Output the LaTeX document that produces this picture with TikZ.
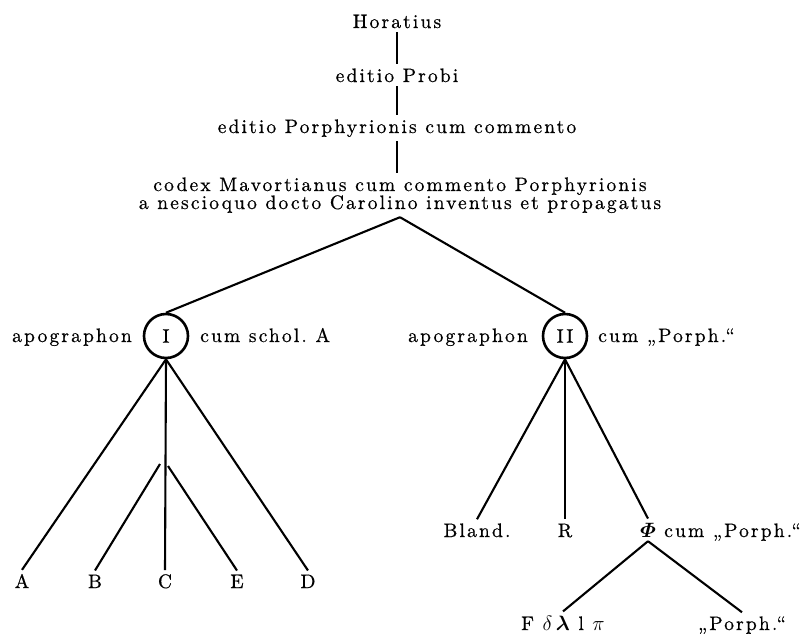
\documentclass[tikz,border=0pt]{standalone}
\usepackage{amsmath}
\usepackage{fontspec}
\setmainfont{lmroman10-regular}[Extension=.otf,LetterSpace=11,FakeBold=0.6]
\frenchspacing
\begin{document}
\begin{tikzpicture}[x=1pt,y=-1pt,
  every node/.style={font=\fontsize{19.5}{20}\selectfont, inner sep=4pt},
  edge/.style={line width=2.1pt},
  ms/.style={draw, circle, line width=2.6pt, minimum size=44pt, inner sep=0pt}]
\useasboundingbox (0,0) rectangle (811,634);
% top chain
\node[anchor=base] (hor) at (397,28) {Horatius};
\node[anchor=base] (pro) at (397,82) {editio Probi};
\node[anchor=base] (epo) at (397,133) {editio Porphyrionis cum commento};
\node[anchor=base, align=center] (cod) at (400,209) {codex Mavortianus cum commento Porphyrionis\\[-2pt]a nescioquo docto Carolino inventus et propagatus};
\draw[edge] (hor.south) -- (pro.north);
\draw[edge] (pro.south) -- (epo.north);
\draw[edge] (epo.south) -- (epo.south |- cod.north);
% apographa
\node[ms] (c1) at (166,336) {I};
\node[ms] (c2) at (565,336) {II};
\node[anchor=base east] (ap1) at (136,342) {apographon};
\node[anchor=base west] (sc1) at (196,342) {cum schol. A};
\node[anchor=base east] (ap2) at (532,342) {apographon};
\node[anchor=base west] (sc2) at (594,342) {cum „Porph.“};
\draw[edge] (cod.south) -- (c1.north);
\draw[edge] (cod.south) -- (c2.north);
% left family
\node[anchor=base] (A) at (22,588) {A};
\node[anchor=base] (B) at (95,588) {B};
\node[anchor=base] (C) at (165,588) {C};
\node[anchor=base] (E) at (237,588) {E};
\node[anchor=base] (D) at (308,588) {D};
\coordinate (jb) at (160,464);
\coordinate (je) at (168,466);
\draw[edge] (c1.south) -- (A.north);
\draw[edge] (c1.south) -- (C.north);
\draw[edge] (c1.south) -- (D.north);
\draw[edge] (jb) -- (B.north);
\draw[edge] (je) -- (E.north);
% right family
\node[anchor=base] (bl) at (477,537) {Bland.};
\node[anchor=base] (R) at (565,537) {R};
\node[anchor=base] (phi) at (648,537) {$\boldsymbol{\varPhi}$};
\node[anchor=base west] (phc) at (660,537) {cum „Porph.“};
\draw[edge] (c2.south) -- (bl.north);
\draw[edge] (c2.south) -- (R.north);
\draw[edge] (c2.south) -- (phi.north);
\node[anchor=base] (fd) at (563,630) {F $\delta\,\boldsymbol{\lambda}$ l $\pi$};
\node[anchor=base] (pq) at (742,630) {„Porph.“};
\draw[edge] (phi.south) -- (fd.north);
\draw[edge] (phi.south) -- (pq.north);
\end{tikzpicture}
\end{document}
